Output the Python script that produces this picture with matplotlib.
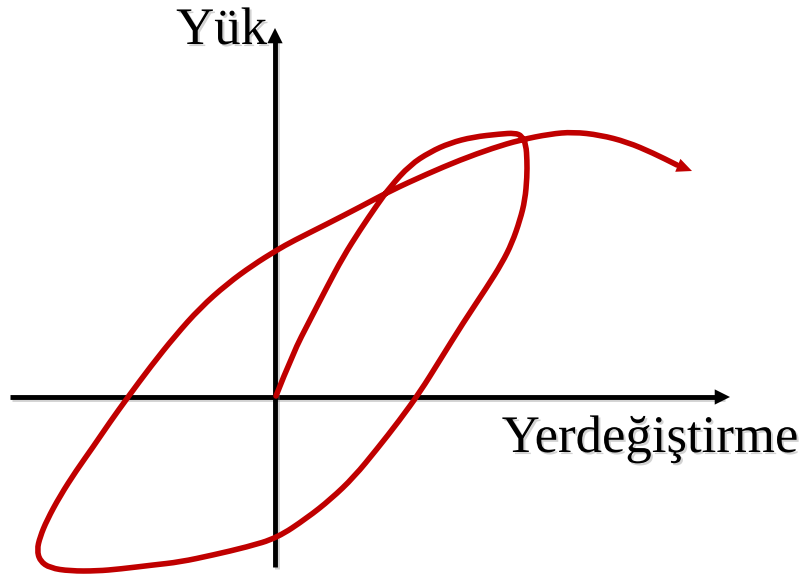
import matplotlib
matplotlib.use("Agg")
import matplotlib.pyplot as plt
import matplotlib.patheffects as pe
from matplotlib.path import Path
from matplotlib.patches import PathPatch

# Hysteresis curve (displacement, load), arbitrary units
disp = [1, 18, 35, 52, 68, 85, 102, 115, 135, 155, 175, 198, 225, 240, 247, 251,
        252, 252, 250, 245, 237, 227, 212, 188, 165, 145, 124, 102, 79, 56, 32, 2,
        -28, -62, -95, -122, -155, -178, -205, -225, -235, -238, -235, -228, -215,
        -199, -182, -165, -147, -124, -100, -75, -48, -22, 2, 18, 52, 85, 115, 152,
        185, 218, 245, 275, 298, 325, 352, 378, 402, 417]
load = [1, 44, 77, 110, 140, 167, 192, 210, 232, 245, 254, 260, 263, 264, 261, 252,
        237, 220, 197, 177, 154, 134, 110, 74, 37, 5, -24, -52, -80, -102, -121, -141,
        -150, -158, -165, -168, -172, -174, -174, -171, -164, -153, -140, -123, -99,
        -74, -50, -25, 0, 31, 61, 89, 113, 132, 147, 156, 173, 190, 206, 223,
        237, 249, 257, 263, 265, 262, 255, 244, 232, 226]

x_label = "Yerdeğiştirme"
y_label = "Yük"

RED = "#C00000"
BLACK = "#000000"

fig = plt.figure(figsize=(8.02, 5.79), dpi=100, facecolor="white")
ax = fig.add_axes([0, 0, 1, 1])
ax.set_xlim(-275, 527)
ax.set_ylim(-182, 397)
ax.axis("off")

shadow_line = [pe.SimpleLineShadow(offset=(1.5, -1.5), shadow_color="gray", alpha=0.35), pe.Normal()]
shadow_patch = [pe.withSimplePatchShadow(offset=(1.5, -1.5), shadow_rgbFace="gray", alpha=0.35)]

# coordinate axes with arrows
ax.plot([-265, 448], [0, 0], color=BLACK, lw=3.5, solid_capstyle="butt", path_effects=shadow_line)
ax.plot([0, 0], [-170, 360], color=BLACK, lw=3.5, solid_capstyle="butt", path_effects=shadow_line)
ax.annotate("", xy=(455, 0), xytext=(430, 0),
            arrowprops=dict(arrowstyle="-|>,head_length=1.1,head_width=0.55",
                            mutation_scale=10, color=BLACK, lw=0, shrinkA=0, shrinkB=0))
ax.annotate("", xy=(0, 369), xytext=(0, 340),
            arrowprops=dict(arrowstyle="-|>,head_length=1.1,head_width=0.55",
                            mutation_scale=10, color=BLACK, lw=0, shrinkA=0, shrinkB=0))

# hysteresis loop: smooth quadratic path through the traced points
pts = list(zip(disp[:-1], load[:-1]))
verts = [pts[0]]
codes = [Path.MOVETO]
for i in range(1, len(pts) - 1):
    mid = ((pts[i][0] + pts[i + 1][0]) / 2, (pts[i][1] + pts[i + 1][1]) / 2)
    verts += [pts[i], mid]
    codes += [Path.CURVE3, Path.CURVE3]
verts.append(pts[-1])
codes.append(Path.LINETO)
ax.add_patch(PathPatch(Path(verts, codes), facecolor="none", edgecolor=RED, lw=4.0,
                       joinstyle="round", capstyle="round", zorder=3))
ax.annotate("", xy=(disp[-1], load[-1]), xytext=(disp[-2], load[-2]),
            arrowprops=dict(arrowstyle="-|>,head_length=1.1,head_width=0.5",
                            mutation_scale=10, color=RED, lw=0, shrinkA=0, shrinkB=0),
            zorder=3)

ax.text(-8, 353, y_label, ha="right", va="baseline", fontsize=38,
        family="Liberation Serif", color=BLACK, path_effects=shadow_patch)
ax.text(523, -55, x_label, ha="right", va="baseline", fontsize=38,
        family="Liberation Serif", color=BLACK, path_effects=shadow_patch)

fig.savefig("out.png", dpi=100, facecolor="white")
